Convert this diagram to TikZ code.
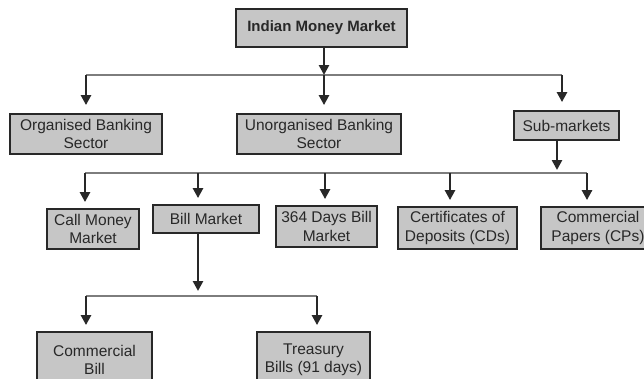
\documentclass[tikz,border=0pt]{standalone}
\usepackage{fontspec}
\setmainfont{Liberation Sans}
\usetikzlibrary{arrows.meta}

\definecolor{boxgray}{RGB}{198,198,198}
\definecolor{inkgray}{RGB}{40,40,40}
\definecolor{bargray}{RGB}{125,125,125}

\begin{document}
\begin{tikzpicture}[x=1pt, y=-1pt,
    box/.style={rectangle, draw=inkgray, line width=1.8pt, fill=boxgray, align=center,
        text=inkgray, font=\fontsize{15.5}{18.5}\selectfont, inner sep=0pt},
    link/.style={-{Triangle[length=10pt, width=10pt]}, line width=2.6pt, draw=inkgray},
    drop/.style={link, shorten >=6pt},
    bar/.style={line width=1.9pt, draw=bargray}
]
    \clip (0,0) rectangle (644,378);
    \fill[white] (0,0) rectangle (644,378);

    % Top
    \node[box, font=\bfseries\fontsize{15}{18}\selectfont, minimum width=171pt, minimum height=38pt] (imm) at (321.5,28) {Indian Money Market};

    % Sectors
    \node[box, minimum width=152pt, minimum height=40pt] (obs) at (86,134) {Organised Banking\\Sector};
    \node[box, minimum width=164pt, minimum height=40pt] (ubs) at (319,134) {Unorganised Banking\\Sector};
    \node[box, minimum width=105pt, minimum height=29pt] (sub) at (566.5,125.5) {Sub-markets};

    % Sub-markets
    \node[box, minimum width=92pt, minimum height=40pt] (cmm) at (93,229) {Call Money\\Market};
    \node[box, minimum width=106pt, minimum height=28pt] (bill) at (206,219) {Bill Market};
    \node[box, minimum width=101pt, minimum height=41pt] (dbm) at (326.5,226.5) {364 Days Bill\\Market};
    \node[box, minimum width=119pt, minimum height=42pt] (cds) at (457.5,228) {Certificates of\\Deposits (CDs)};
    \node[box, minimum width=114pt, minimum height=42pt] (cps) at (598,228) {Commercial\\Papers (CPs)};

    % Bills
    \node[box, minimum width=115pt, minimum height=56pt] (cbill) at (94.5,360) {Commercial\\Bill};
    \node[box, minimum width=113pt, minimum height=56pt] (tbill) at (313.5,360) {Treasury\\Bills (91 days)};

    % first branch
    \coordinate (j1) at (324,75);
    \coordinate (j1w) at (86,75);
    \coordinate (j1e) at (562,75);
    \draw[bar] (j1w) -- (j1e);
    \draw[link] (imm.south -| j1) -- (j1);
    \foreach \c/\n in {j1w/obs, j1/ubs, j1e/sub}
        \draw[drop, shorten >=8pt] (\c) -- (\c |- \n.north);

    % second branch
    \coordinate (j2) at (557,173);
    \coordinate (j2w) at (85,173);
    \coordinate (j2e) at (587,173);
    \coordinate (j2b) at (198,173);
    \coordinate (j2c) at (325,173);
    \coordinate (j2d) at (450,173);
    \draw[bar] (j2w) -- (j2e);
    \draw[link, shorten >=3pt] (sub.south -| j2) -- (j2);
    \foreach \c/\n in {j2w/cmm, j2b/bill, j2c/dbm, j2d/cds, j2e/cps}
        \draw[drop] (\c) -- (\c |- \n.north);

    % bill market branch
    \coordinate (j3) at (198,296);
    \coordinate (j3w) at (86,296);
    \coordinate (j3e) at (317,296);
    \draw[bar] (j3w) -- (j3e);
    \draw[link, shorten >=5pt] (bill.south -| j3) -- (j3);
    \foreach \c/\n in {j3w/cbill, j3e/tbill}
        \draw[drop] (\c) -- (\c |- \n.north);
\end{tikzpicture}
\end{document}
